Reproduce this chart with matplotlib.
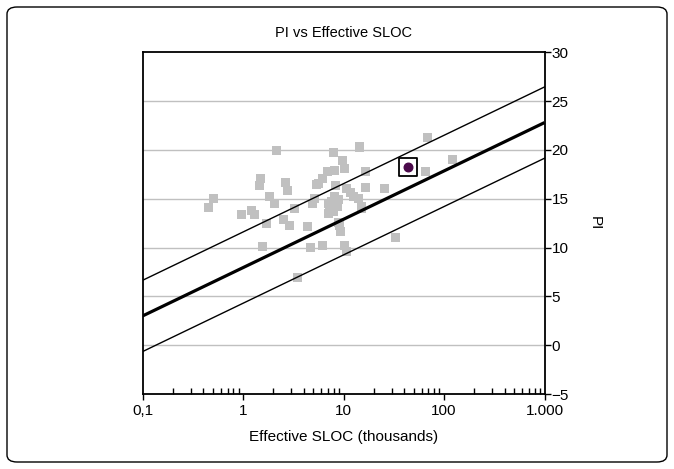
import numpy as np
import matplotlib
matplotlib.use("Agg")
import matplotlib.pyplot as plt
from matplotlib.patches import FancyBboxPatch
from matplotlib.ticker import FixedLocator, FuncFormatter, LogLocator, NullFormatter

plt.rcParams['font.family'] = ['Liberation Sans', 'DejaVu Sans']

# Effective SLOC (thousands) and PI values of the portfolio projects
sloc = [0.45, 0.51, 0.97, 1.22, 1.3, 1.45, 1.49, 1.57, 1.72, 1.83, 2.05, 2.13,
        2.52, 2.62, 2.75, 2.88, 3.22, 3.45, 4.4, 4.65, 4.9, 5.1, 5.4, 5.6,
        6.1, 6.1, 6.84, 7.1, 7.1, 7.3, 7.6, 7.9, 7.94, 8.08, 8.2, 8.3, 8.6,
        8.9, 8.9, 9.1, 9.25, 9.64, 10.2, 10.2, 10.8, 10.8, 11.6, 12.6, 14.1,
        14.5, 15.0, 15.2, 16.4, 16.5, 25.6, 32.8, 65.8, 67.8, 120]
pi = [14.1, 15.0, 13.4, 13.8, 13.4, 16.4, 17.1, 10.1, 12.5, 15.2, 14.5, 19.9,
      12.9, 16.7, 15.8, 12.3, 14.0, 6.9, 12.2, 10.0, 14.5, 15.0, 16.5, 16.6,
      17.1, 10.2, 17.8, 13.5, 14.5, 13.85, 14.7, 13.7, 19.7, 17.9, 15.2, 16.4, 14.2,
      14.9, 12.6, 12.3, 11.6, 18.9, 18.1, 10.2, 9.6, 16.1, 15.6, 15.2, 15.0,
      20.3, 14.2, 14.0, 16.2, 17.8, 16.0, 11.05, 17.8, 21.3, 19.0]

# Highlighted project
hl_sloc = [43.5]
hl_pi = [18.3]

# Trend line: PI = intercept + slope * log10(SLOC), with +/- band
trend_intercept = 7.95
trend_slope = 4.95
band = 3.65

xticks = [0.1, 1, 10, 100, 1000]
xtick_labels = ["0,1", "1", "10", "100", "1.000"]
yticks = [-5, 0, 5, 10, 15, 20, 25, 30]

fig = plt.figure(figsize=(6.74, 4.69), dpi=100)
fig.patch.set_facecolor("white")
border = FancyBboxPatch((7 / 674, 7 / 469), 660 / 674, 455 / 469,
                        boxstyle="round,pad=0,rounding_size=0.015",
                        transform=fig.transFigure, facecolor="none",
                        edgecolor="black", linewidth=1.0, zorder=-1)
fig.patches.append(border)

ax = fig.add_axes([142.7 / 674, 1 - 394 / 469, (544.5 - 142.7) / 674, (394 - 52.3) / 469])
ax.set_xscale("log")
ax.set_xlim(0.1, 1000)
ax.set_ylim(-5, 30)

for yv in yticks[1:-1]:
    ax.axhline(yv, color="#c0c0c0", linewidth=1.0, zorder=1)

ax.scatter(sloc, pi, marker="s", s=42, color="#c0c0c0", edgecolors="none", zorder=2)

xl = np.array([0.1, 1000])
yc = trend_intercept + trend_slope * np.log10(xl)
ax.plot(xl, yc, color="black", linewidth=2.3, zorder=3, solid_capstyle="butt")
ax.plot(xl, yc + band, color="black", linewidth=1.0, zorder=3)
ax.plot(xl, yc - band, color="black", linewidth=1.0, zorder=3)

ax.scatter(hl_sloc, hl_pi, marker="s", s=150, facecolor="white", edgecolors="black",
           linewidths=1.3, zorder=4)
ax.scatter(hl_sloc, hl_pi, marker="o", s=38, color="#4b0a4b", zorder=5)

for s in ax.spines.values():
    s.set_linewidth(1.3)
    s.set_color("black")

ax.yaxis.tick_right()
ax.yaxis.set_label_position("right")
ax.set_yticks(yticks)
ax.tick_params(axis="y", which="major", direction="out", length=4, width=1.0,
               labelsize=11, pad=1)

ax.xaxis.set_major_locator(FixedLocator(xticks))
ax.xaxis.set_major_formatter(FuncFormatter(lambda v, p: xtick_labels[xticks.index(min(xticks, key=lambda t: abs(np.log10(t) - np.log10(v))))]))
ax.xaxis.set_minor_locator(LogLocator(base=10, subs=np.arange(2, 10)))
ax.xaxis.set_minor_formatter(NullFormatter())
ax.tick_params(axis="x", which="major", direction="out", length=4, width=1.0,
               labelsize=11, pad=3)
ax.tick_params(axis="x", which="minor", direction="in", length=4, width=1.0)

ax.set_title("PI vs Effective SLOC", fontsize=10.5, pad=11)
ax.set_xlabel("Effective SLOC (thousands)", fontsize=11, labelpad=9)
ax.set_ylabel("PI", fontsize=11, rotation=-90, labelpad=24)

fig.savefig("out.png", dpi=100)
